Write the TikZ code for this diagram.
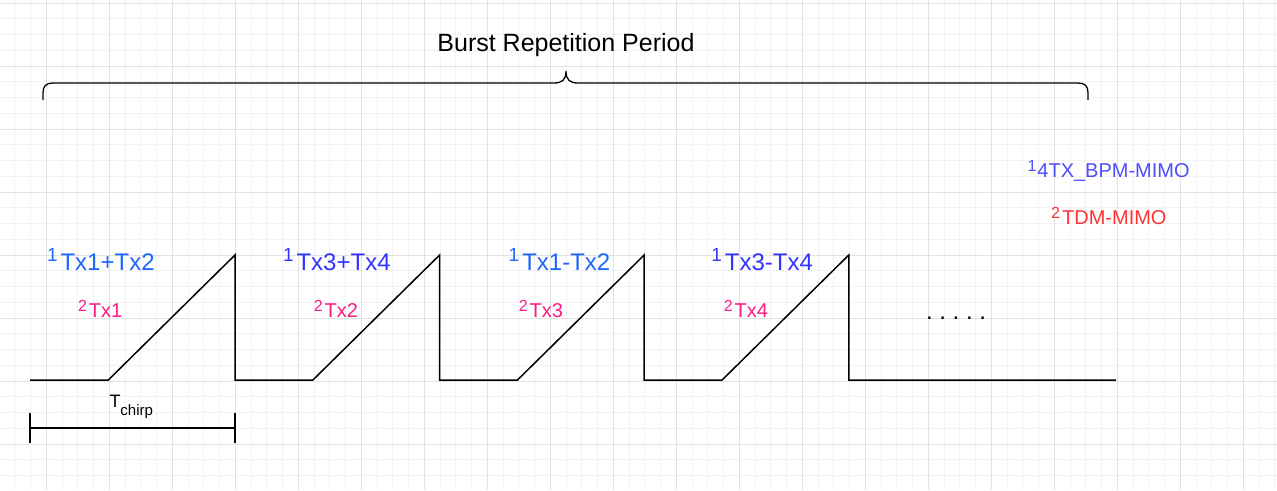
\documentclass[tikz,border=0pt]{standalone}
\usepackage{fontspec}
\setmainfont{Liberation Sans}
\definecolor{bpmA}{HTML}{1F66FF}
\definecolor{bpmB}{HTML}{3333FF}
\definecolor{tdmc}{HTML}{FF1A85}
\definecolor{legA}{HTML}{4D4DFF}
\definecolor{legB}{HTML}{FF3333}
\definecolor{gridminor}{HTML}{F2F2F2}
\definecolor{gridmajor}{HTML}{E2E2E2}
\newcommand{\fsz}[1]{\fontsize{#1}{#1}\selectfont}
\newcommand{\supA}[1]{\raisebox{9pt}{\fsz{19}#1}\kern3pt}
\newcommand{\supB}[1]{\raisebox{6pt}{\fsz{16}#1}\kern2pt}
\tikzset{
  wave/.style={line width=1.5pt, line join=miter},
  bracepath/.style={line width=1.3pt},
  lbl/.style={anchor=base west, inner sep=0pt, outer sep=0pt},
  bpmlbl/.style={lbl, font=\fsz{24}},
  tdmlbl/.style={lbl, font=\fsz{20}, text=tdmc},
  leglbl/.style={lbl, font=\fsz{20}},
}
\begin{document}
\frenchspacing
\begin{tikzpicture}[x=1pt,y=-1pt]
\useasboundingbox (0,0) rectangle (1277,490);
\fill[white] (0,0) rectangle (1277,490);
% grid
\foreach \i in {0,...,80} {\draw[gridminor, line width=1pt] ({14.8+15.75*\i},0) -- ({14.8+15.75*\i},490);}
\foreach \j in {0,...,31} {\draw[gridminor, line width=1pt] (0,{3+15.75*\j}) -- (1277,{3+15.75*\j});}
\foreach \i in {0,...,19} {\draw[gridmajor, line width=1pt] ({46.3+63*\i},0) -- ({46.3+63*\i},490);}
\foreach \j in {0,...,7} {\draw[gridmajor, line width=1pt] (0,{3+63*\j}) -- (1277,{3+63*\j});}

% brace
\coordinate (bl) at (43,100);
\coordinate (br) at (1088,100);
\coordinate (btip) at (566,71);
\draw[bracepath] (bl) -- (43,93) .. controls (43,86) and (46,83) .. (53,83) -- (554,83)
  .. controls (562,83) and (566,80) .. (btip)
  .. controls (566,80) and (570,83) .. (578,83) -- (1078,83)
  .. controls (1085,83) and (1088,86) .. (1088,93) -- (br);
\node[anchor=base, inner sep=0pt, font=\fsz{25}] (brp) at (566,51.7) {Burst Repetition Period};

% waveform
\coordinate (w0) at (30,380);
\coordinate (w1) at (1116,380);
\draw[wave] (w0) foreach \k in {0,1,2,3} { -- ({108.3+204.6*\k},380) -- ({235+204.6*\k},255) -- ({235+204.6*\k},380) } -- (w1);

% T_chirp measure
\coordinate (m0) at (30,428);
\coordinate (m1) at (235,428);
\draw[wave] (30,413) -- (30,443);
\draw[wave] (235,413) -- (235,443);
\draw[wave] (m0) -- (m1);
\node[lbl, font=\fsz{18}] (tchirp) at (109.5,407.5) {T\raisebox{-7.5pt}{\fsz{15}chirp}};

% BPM labels
\node[bpmlbl, text=bpmA] (b1) at (47,270) {\supA{1}Tx1+Tx2};
\node[bpmlbl, text=bpmB] (b2) at (283,270) {\supA{1}Tx3+Tx4};
\node[bpmlbl, text=bpmA] (b3) at (508.7,270) {\supA{1}Tx1-Tx2};
\node[bpmlbl, text=bpmB] (b4) at (711.3,270) {\supA{1}Tx3-Tx4};

% TDM labels
\node[tdmlbl] (t1) at (78,317.3) {\supB{2}Tx1};
\node[tdmlbl] (t2) at (313.8,317.3) {\supB{2}Tx2};
\node[tdmlbl] (t3) at (518.8,317.3) {\supB{2}Tx3};
\node[tdmlbl] (t4) at (723.8,317.3) {\supB{2}Tx4};

% dots
\node[lbl, font=\fsz{24}] (dots) at (926,319) {. . . . .};

% legend
\node[leglbl, text=legA] (l1) at (1027.5,177.3) {\raisebox{6pt}{\fsz{16}1}\kern1pt 4TX\_BPM-MIMO};
\node[leglbl, text=legB] (l2) at (1051.2,224) {\supB{2}TDM-MIMO};
\end{tikzpicture}
\end{document}
